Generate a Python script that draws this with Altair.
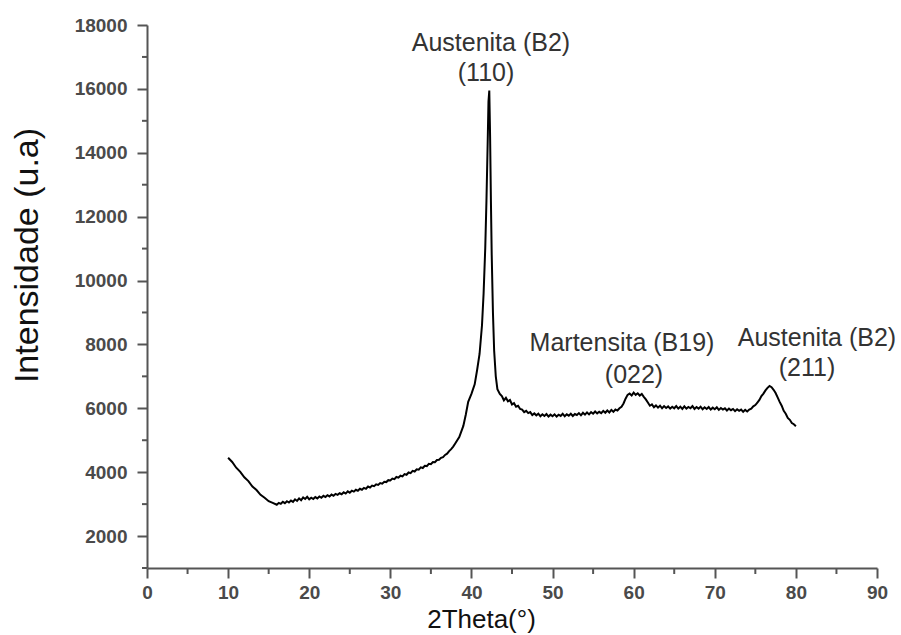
import altair as alt
import pandas as pd

# 2Theta (degrees) and intensity (a.u.), one row per degree
two_theta = [
    10.0, 10.5, 11.0, 11.5, 12.0, 12.5, 13.0, 13.5, 14.0, 14.5, 15.0, 15.5,
    16.0, 16.25, 16.5, 16.75,
    17.0, 17.25, 17.5, 17.75,
    18.0, 18.25, 18.5, 18.75,
    19.0, 19.25, 19.5, 19.75,
    20.0, 20.25, 20.5, 20.75,
    21.0, 21.25, 21.5, 21.75,
    22.0, 22.25, 22.5, 22.75,
    23.0, 23.25, 23.5, 23.75,
    24.0, 24.25, 24.5, 24.75,
    25.0, 25.25, 25.5, 25.75,
    26.0, 26.25, 26.5, 26.75,
    27.0, 27.25, 27.5, 27.75,
    28.0, 28.25, 28.5, 28.75,
    29.0, 29.25, 29.5, 29.75,
    30.0, 30.25, 30.5, 30.75,
    31.0, 31.25, 31.5, 31.75,
    32.0, 32.25, 32.5, 32.75,
    33.0, 33.25, 33.5, 33.75,
    34.0, 34.25, 34.5, 34.75,
    35.0, 35.25, 35.5, 35.75,
    36.0, 36.25, 36.5, 36.75,
    37.0, 37.25, 37.5, 37.75,
    38.0,
    38.5, 39.0, 39.3, 39.6, 40.0, 40.4, 40.7, 41.0, 41.3, 41.5, 41.7, 41.85,
    42.0, 42.1, 42.2, 42.3, 42.4, 42.5, 42.65, 42.8, 43.0, 43.2, 43.5, 43.75,
    44.0, 44.25, 44.5, 44.75,
    45.0, 45.25, 45.5, 45.75,
    46.0, 46.25, 46.5, 46.75,
    47.0, 47.25, 47.5, 47.75,
    48.0, 48.25, 48.5, 48.75,
    49.0, 49.25, 49.5, 49.75,
    50.0, 50.25, 50.5, 50.75,
    51.0, 51.25, 51.5, 51.75,
    52.0, 52.25, 52.5, 52.75,
    53.0, 53.25, 53.5, 53.75,
    54.0, 54.25, 54.5, 54.75,
    55.0, 55.25, 55.5, 55.75,
    56.0, 56.25, 56.5, 56.75,
    57.0, 57.25, 57.5, 57.75,
    58.0, 58.25, 58.5, 58.75,
    59.0, 59.25, 59.5, 59.75,
    60.0, 60.25, 60.5, 60.75,
    61.0, 61.25, 61.5, 61.75,
    62.0, 62.25, 62.5, 62.75,
    63.0, 63.25, 63.5, 63.75,
    64.0, 64.25, 64.5, 64.75,
    65.0, 65.25, 65.5, 65.75,
    66.0, 66.25, 66.5, 66.75,
    67.0, 67.25, 67.5, 67.75,
    68.0, 68.25, 68.5, 68.75,
    69.0, 69.25, 69.5, 69.75,
    70.0, 70.25, 70.5, 70.75,
    71.0, 71.25, 71.5, 71.75,
    72.0, 72.25, 72.5, 72.75,
    73.0, 73.25, 73.5, 73.75,
    74.0, 74.25, 74.5, 74.75,
    75.0, 75.25, 75.5, 75.75,
    76.0, 76.25, 76.5, 76.75,
    77.0, 77.25, 77.5, 77.75,
    78.0, 78.25, 78.5, 78.75,
    79.0, 79.25, 79.5, 79.75,
    80.0,
]
intensity = [
    4450, 4320, 4140, 4010, 3840, 3720, 3550, 3440, 3290, 3200, 3090, 3040,
    2980, 3040, 3010, 3070,
    3030, 3090, 3050, 3110,
    3070, 3150, 3100, 3180,
    3120, 3210, 3160, 3230,
    3150, 3200, 3160, 3220,
    3180, 3240, 3200, 3260,
    3220, 3280, 3240, 3300,
    3260, 3320, 3290, 3340,
    3310, 3370, 3330, 3400,
    3360, 3420, 3390, 3450,
    3420, 3480, 3450, 3510,
    3480, 3550, 3520, 3580,
    3560, 3620, 3600, 3660,
    3640, 3700, 3690, 3750,
    3740, 3800, 3780, 3850,
    3830, 3890, 3870, 3940,
    3920, 3990, 3970, 4040,
    4020, 4090, 4080, 4150,
    4130, 4200, 4190, 4260,
    4250, 4320, 4310, 4380,
    4390, 4450, 4470, 4540,
    4580, 4660, 4720, 4800,
    4900,
    5100, 5450, 5800, 6200, 6450, 6750, 7200, 7700, 8600, 9600, 11000, 12500,
    14300, 15600, 15950, 14500, 12500, 10800, 9000, 7800, 7000, 6600, 6450, 6380,
    6250, 6330, 6220, 6260,
    6120, 6160, 6050, 6080,
    5980, 5960, 5880, 5920,
    5850, 5880, 5790, 5840,
    5780, 5830, 5750, 5810,
    5760, 5820, 5740, 5800,
    5750, 5810, 5740, 5800,
    5760, 5830, 5750, 5810,
    5770, 5830, 5760, 5820,
    5790, 5850, 5780, 5860,
    5800, 5870, 5810, 5880,
    5830, 5900, 5840, 5890,
    5850, 5920, 5860, 5930,
    5870, 5950, 5890, 5960,
    5930, 6000, 6050, 6150,
    6300, 6420, 6460, 6400,
    6490, 6420, 6470, 6400,
    6450, 6360, 6280, 6180,
    6080, 6120, 6030, 6090,
    6020, 6080, 6000, 6070,
    6010, 6060, 5990, 6050,
    6000, 6070, 5990, 6050,
    5980, 6060, 5990, 6040,
    6000, 6070, 5980, 6040,
    5990, 6050, 5970, 6030,
    5980, 6040, 5960, 6020,
    5970, 6030, 5950, 6010,
    5960, 6000, 5930, 5990,
    5940, 5980, 5910, 5970,
    5920, 5960, 5890, 5950,
    5900, 5960, 5990, 6060,
    6100, 6180, 6260, 6380,
    6460, 6560, 6640, 6700,
    6660, 6580, 6480, 6340,
    6200, 6080, 5920, 5830,
    5700, 5640, 5540, 5500,
    5440,
]

# Peak annotations (anchor in data coordinates)
label_text = ["Austenita (B2)", "(110)", "Martensita (B19)", "(022)", "Austenita (B2)", "(211)"]
label_x = [42.4, 41.8, 58.56, 60.04, 82.6, 81.37]
label_y = [17437, 16497, 8045, 7043, 8201, 7262]

# Axis ticks
x_major = [0, 10, 20, 30, 40, 50, 60, 70, 80, 90]
x_minor = [5, 15, 25, 35, 45, 55, 65, 75, 85]
y_major = [2000, 4000, 6000, 8000, 10000, 12000, 14000, 16000, 18000]
y_minor = [1000, 3000, 5000, 7000, 9000, 11000, 13000, 15000, 17000]

FONT = "Liberation Sans"
AXIS_COLOR = "#555555"
W, H = 730, 543

df = pd.DataFrame({"x": two_theta, "y": intensity})
lab = pd.DataFrame({"t": label_text, "x": label_x, "y": label_y})
xmin_df = pd.DataFrame({"v": x_minor})
ymin_df = pd.DataFrame({"v": y_minor})

xs = alt.Scale(domain=[0, 90], nice=False, zero=False)
ys = alt.Scale(domain=[1000, 18000], nice=False, zero=False)

x_axis = alt.Axis(
    values=x_major,
    format="d",
    tickSize=10,
    title="2Theta(°)",
    titleX=334,
    titleY=59,
    titleBaseline="alphabetic",
    titleFont=FONT,
    titleFontSize=26,
    titleFontWeight="normal",
    titleColor="#111111",
    labelFont=FONT,
    labelFontSize=19,
    labelFontWeight="bold",
    labelColor="#4a4a4a",
    labelPadding=5,
    labelFlush=False,
    labelOverlap=False,
    domainColor=AXIS_COLOR,
    domainWidth=2,
    tickColor=AXIS_COLOR,
    tickWidth=2,
    grid=False,
)

y_axis = alt.Axis(
    values=y_major,
    format="d",
    tickSize=10,
    title="Intensidade (u.a)",
    titleX=-110,
    titleY=230,
    titleAlign="center",
    titleBaseline="alphabetic",
    titleFont=FONT,
    titleFontSize=34,
    titleFontWeight="normal",
    titleColor="#111111",
    labelFont=FONT,
    labelFontSize=19,
    labelFontWeight="bold",
    labelColor="#4a4a4a",
    labelPadding=10,
    labelFlush=False,
    labelOverlap=False,
    domainColor=AXIS_COLOR,
    domainWidth=2,
    tickColor=AXIS_COLOR,
    tickWidth=2,
    grid=False,
)

line = alt.Chart(df).mark_line(color="black", strokeWidth=2).encode(
    x=alt.X("x:Q", scale=xs, axis=x_axis),
    y=alt.Y("y:Q", scale=ys, axis=y_axis),
)

x_minor_ticks = alt.Chart(xmin_df).mark_rule(color=AXIS_COLOR, strokeWidth=2).encode(
    x=alt.X("v:Q", scale=xs),
    y=alt.value(H),
    y2=alt.value(H + 6),
)

y_minor_ticks = alt.Chart(ymin_df).mark_rule(color=AXIS_COLOR, strokeWidth=2).encode(
    y=alt.Y("v:Q", scale=ys),
    x=alt.value(-5),
    x2=alt.value(0),
)

texts = alt.Chart(lab).mark_text(
    font=FONT, fontSize=25, color="#333333", align="center", baseline="middle"
).encode(
    x=alt.X("x:Q", scale=xs),
    y=alt.Y("y:Q", scale=ys),
    text="t:N",
)

chart = alt.layer(line, x_minor_ticks, y_minor_ticks, texts).properties(
    width=W,
    height=H,
    autosize=alt.AutoSizeParams(type="none"),
    padding={"left": 147, "top": 25, "right": 24, "bottom": 67},
    background="white",
).configure_view(stroke=None)

chart.save("out.html", embed_options={"renderer": "svg", "actions": False})
